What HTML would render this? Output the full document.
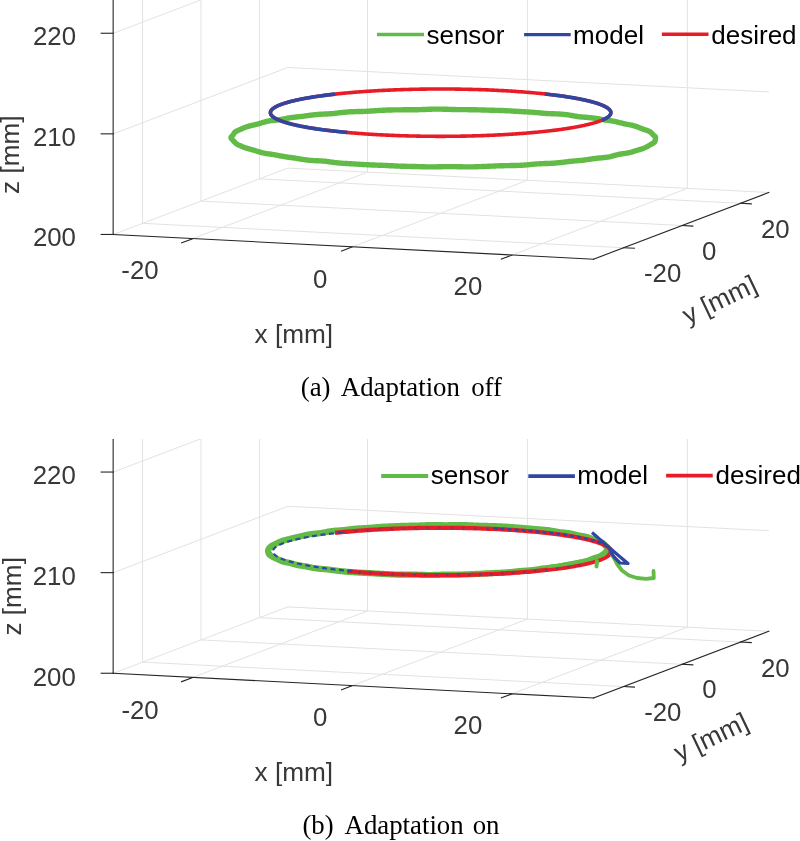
<!DOCTYPE html><html><head><meta charset="utf-8"><title>Adaptation figure</title>
<style>html,body{margin:0;padding:0;background:#fff}svg{display:block}
.g{stroke:#e2e2e2;stroke-width:1;fill:none}
.ax{stroke:#262626;stroke-width:1.1;fill:none;stroke-linecap:square}
.gr{stroke:#62bb46;fill:none;stroke-linejoin:round;stroke-linecap:round}
.bl{stroke:#2f47a2;fill:none;stroke-linejoin:round;stroke-linecap:butt}
.rd{stroke:#e81c27;fill:none;stroke-linejoin:round;stroke-linecap:butt}
text{white-space:pre}
</style></head><body>
<svg width="800" height="841" viewBox="0 0 800 841">
<defs><clipPath id="ca"><rect x="0" y="0" width="800" height="420"/></clipPath>
<clipPath id="cb"><rect x="0" y="439.0" width="800" height="402"/></clipPath></defs>

<g clip-path="url(#ca)"><line class="g" x1="192.14" y1="238.87" x2="367.56" y2="172.14"/><line class="g" x1="352.02" y1="246.98" x2="527.43" y2="180.25"/><line class="g" x1="511.89" y1="255.09" x2="687.31" y2="188.36"/><line class="g" x1="142.55" y1="223.34" x2="623.61" y2="247.75"/><line class="g" x1="200.99" y1="201.11" x2="682.06" y2="225.51"/><line class="g" x1="259.44" y1="178.88" x2="740.5" y2="203.28"/><line class="g" x1="112.37" y1="234.83" x2="287.78" y2="168.09"/><line class="g" x1="287.78" y1="168.09" x2="768.84" y2="192.5"/><line class="g" x1="142.55" y1="223.34" x2="142.55" y2="-18.1"/><line class="g" x1="200.99" y1="201.11" x2="200.99" y2="-40.33"/><line class="g" x1="259.44" y1="178.88" x2="259.44" y2="-62.56"/><line class="g" x1="112.37" y1="134.23" x2="287.78" y2="67.49"/><line class="g" x1="112.37" y1="33.63" x2="287.78" y2="-33.11"/><line class="g" x1="367.56" y1="172.14" x2="367.56" y2="-69.3"/><line class="g" x1="527.43" y1="180.25" x2="527.43" y2="-61.19"/><line class="g" x1="687.31" y1="188.36" x2="687.31" y2="-53.08"/><line class="g" x1="287.78" y1="67.49" x2="768.84" y2="91.9"/><line class="g" x1="287.78" y1="-33.11" x2="768.84" y2="-8.7"/></g>
<g clip-path="url(#ca)"><line class="ax" x1="113.15" y1="234.45" x2="593.43" y2="259.23"/><line class="ax" x1="593.43" y1="259.23" x2="768.84" y2="192.5"/><line class="ax" x1="113.15" y1="234.45" x2="113.15" y2="-25.55"/><line class="ax" x1="192.14" y1="238.87" x2="181.63" y2="242.88"/><line class="ax" x1="352.02" y1="246.98" x2="341.5" y2="250.99"/><line class="ax" x1="511.89" y1="255.09" x2="501.37" y2="259.1"/><line class="ax" x1="623.61" y1="247.75" x2="634.41" y2="248.29"/><line class="ax" x1="682.06" y1="225.51" x2="692.85" y2="226.06"/><line class="ax" x1="740.5" y1="203.28" x2="751.29" y2="203.83"/><line class="ax" x1="113.15" y1="234.45" x2="101.15" y2="234.45"/><line class="ax" x1="113.15" y1="133.85" x2="101.15" y2="133.85"/><line class="ax" x1="113.15" y1="33.25" x2="101.15" y2="33.25"/></g>
<g clip-path="url(#cb)"><line class="g" x1="192.14" y1="677.67" x2="367.56" y2="610.94"/><line class="g" x1="352.02" y1="685.78" x2="527.43" y2="619.05"/><line class="g" x1="511.89" y1="693.89" x2="687.31" y2="627.16"/><line class="g" x1="142.55" y1="662.14" x2="623.61" y2="686.55"/><line class="g" x1="200.99" y1="639.91" x2="682.06" y2="664.31"/><line class="g" x1="259.44" y1="617.68" x2="740.5" y2="642.08"/><line class="g" x1="112.37" y1="673.63" x2="287.78" y2="606.89"/><line class="g" x1="287.78" y1="606.89" x2="768.84" y2="631.3"/><line class="g" x1="142.55" y1="662.14" x2="142.55" y2="420.7"/><line class="g" x1="200.99" y1="639.91" x2="200.99" y2="398.47"/><line class="g" x1="259.44" y1="617.68" x2="259.44" y2="376.24"/><line class="g" x1="112.37" y1="573.03" x2="287.78" y2="506.29"/><line class="g" x1="112.37" y1="472.43" x2="287.78" y2="405.69"/><line class="g" x1="367.56" y1="610.94" x2="367.56" y2="369.5"/><line class="g" x1="527.43" y1="619.05" x2="527.43" y2="377.61"/><line class="g" x1="687.31" y1="627.16" x2="687.31" y2="385.72"/><line class="g" x1="287.78" y1="506.29" x2="768.84" y2="530.7"/><line class="g" x1="287.78" y1="405.69" x2="768.84" y2="430.1"/></g>
<g clip-path="url(#cb)"><line class="ax" x1="113.15" y1="673.25" x2="593.43" y2="698.03"/><line class="ax" x1="593.43" y1="698.03" x2="768.84" y2="631.3"/><line class="ax" x1="113.15" y1="673.25" x2="113.15" y2="413.25"/><line class="ax" x1="192.14" y1="677.67" x2="181.63" y2="681.68"/><line class="ax" x1="352.02" y1="685.78" x2="341.5" y2="689.79"/><line class="ax" x1="511.89" y1="693.89" x2="501.37" y2="697.9"/><line class="ax" x1="623.61" y1="686.55" x2="634.41" y2="687.09"/><line class="ax" x1="682.06" y1="664.31" x2="692.85" y2="664.86"/><line class="ax" x1="740.5" y1="642.08" x2="751.29" y2="642.63"/><line class="ax" x1="113.15" y1="673.25" x2="101.15" y2="673.25"/><line class="ax" x1="113.15" y1="572.65" x2="101.15" y2="572.65"/><line class="ax" x1="113.15" y1="472.05" x2="101.15" y2="472.05"/></g>
<path class="gr" d="M643.79 148.22 L644.3 148.02 L644.8 147.81 L645.27 147.6 L645.71 147.39 L646.12 147.19 L646.51 146.98 L646.87 146.79 L647.21 146.59 L647.53 146.41 L647.84 146.22 L648.13 146.05 L648.42 145.87 L648.71 145.7 L649 145.52 L649.3 145.35 L649.6 145.17 L649.92 144.99 L650.25 144.81 L650.58 144.62 L650.93 144.43 L651.28 144.24 L651.64 144.04 L652 143.84 L652.35 143.64 L652.7 143.43 L653.03 143.23 L653.34 143.03 L653.63 142.84 L653.9 142.65 L654.13 142.46 L654.34 142.27 L654.52 142.09 L654.67 141.91 L654.79 141.73 L654.89 141.54 L654.96 141.36 L655.02 141.17 L655.07 140.97 L655.1 140.77 L655.13 140.56 L655.16 140.34 L655.2 140.12 L655.23 139.89 L655.27 139.65 L655.32 139.41 L655.37 139.17 L655.42 138.92 L655.47 138.68 L655.52 138.45 L655.57 138.22 L655.6 137.99 L655.62 137.78 L655.62 137.58 L655.61 137.39 L655.57 137.2 L655.5 137.03 L655.41 136.86 L655.3 136.7 L655.16 136.55 L655 136.39 L654.82 136.24 L654.63 136.08 L654.43 135.92 L654.22 135.76 L654 135.59 L653.78 135.41 L653.57 135.22 L653.36 135.03 L653.16 134.83 L652.96 134.62 L652.77 134.41 L652.58 134.19 L652.39 133.96 L652.2 133.74 L652.01 133.51 L651.81 133.28 L651.59 133.05 L651.36 132.83 L651.11 132.6 L650.84 132.38 L650.54 132.15 L650.21 131.94 L649.86 131.72 L649.49 131.51 L649.09 131.31 L648.67 131.11 L648.23 130.92 L647.77 130.73 L647.3 130.54 L646.82 130.37 L646.34 130.2 L645.86 130.03 L645.38 129.87 L644.89 129.71 L644.42 129.55 L643.94 129.4 L643.47 129.24 L643 129.08 L642.52 128.91 L642.05 128.74 L641.56 128.56 L641.07 128.37 L640.57 128.18 L640.04 127.97 L639.51 127.75 L638.95 127.53 L638.37 127.3 L637.77 127.07 L637.15 126.84 L636.51 126.6 L635.86 126.38 L635.2 126.15 L634.52 125.94 L633.83 125.74 L633.15 125.55 L632.46 125.38 L631.77 125.21 L631.08 125.07 L630.4 124.93 L629.72 124.8 L629.04 124.68 L628.37 124.57 L627.69 124.45 L627.01 124.33 L626.33 124.2 L625.63 124.07 L624.92 123.92 L624.2 123.76 L623.45 123.59 L622.68 123.4 L621.88 123.2 L621.06 122.99 L620.21 122.77 L619.34 122.55 L618.45 122.32 L617.54 122.1 L616.61 121.88 L615.68 121.67 L614.73 121.47 L613.78 121.28 L612.84 121.11 L611.89 120.94 L610.96 120.79 L610.04 120.65 L609.12 120.52 L608.22 120.4 L607.33 120.28 L606.44 120.15 L605.56 120.03 L604.68 119.9 L603.79 119.76 L602.9 119.61 L602 119.46 L601.08 119.3 L600.14 119.13 L599.17 118.95 L598.18 118.78 L597.16 118.6 L596.11 118.43 L595.04 118.26 L593.94 118.1 L592.82 117.95 L591.69 117.81 L590.54 117.69 L589.38 117.58 L588.22 117.48 L587.06 117.38 L585.9 117.3 L584.76 117.22 L583.63 117.13 L582.51 117.05 L581.41 116.95 L580.32 116.85 L579.24 116.73 L578.18 116.59 L577.13 116.45 L576.07 116.29 L575.02 116.11 L573.96 115.92 L572.89 115.73 L571.8 115.53 L570.69 115.33 L569.56 115.14 L568.4 114.95 L567.21 114.77 L565.99 114.61 L564.74 114.46 L563.46 114.33 L562.16 114.22 L560.83 114.12 L559.49 114.04 L558.13 113.97 L556.77 113.91 L555.4 113.86 L554.03 113.82 L552.66 113.77 L551.31 113.72 L549.96 113.66 L548.64 113.6 L547.32 113.53 L546.03 113.45 L544.75 113.36 L543.49 113.26 L542.24 113.15 L541.01 113.04 L539.79 112.92 L538.57 112.8 L537.35 112.68 L536.13 112.57 L534.91 112.45 L533.68 112.35 L532.44 112.25 L531.18 112.15 L529.91 112.07 L528.61 111.98 L527.3 111.9 L525.96 111.83 L524.61 111.75 L523.22 111.68 L521.82 111.6 L520.4 111.52 L518.96 111.44 L517.5 111.36 L516.02 111.27 L514.54 111.18 L513.04 111.09 L511.54 111.01 L510.03 110.92 L508.52 110.83 L507.02 110.75 L505.51 110.68 L504.02 110.61 L502.54 110.55 L501.07 110.49 L499.61 110.44 L498.17 110.4 L496.74 110.36 L495.34 110.33 L493.94 110.3 L492.56 110.26 L491.2 110.23 L489.84 110.2 L488.49 110.16 L487.15 110.13 L485.8 110.09 L484.46 110.04 L483.1 110 L481.74 109.95 L480.37 109.91 L478.97 109.87 L477.56 109.83 L476.13 109.79 L474.68 109.76 L473.21 109.73 L471.72 109.71 L470.21 109.7 L468.69 109.68 L467.15 109.67 L465.6 109.67 L464.05 109.66 L462.49 109.65 L460.93 109.64 L459.38 109.63 L457.84 109.6 L456.3 109.58 L454.78 109.54 L453.27 109.51 L451.77 109.46 L450.29 109.41 L448.82 109.36 L447.36 109.31 L445.9 109.26 L444.46 109.22 L443.01 109.18 L441.57 109.14 L440.13 109.12 L438.68 109.11 L437.22 109.11 L435.76 109.12 L434.29 109.14 L432.81 109.17 L431.33 109.21 L429.84 109.26 L428.35 109.32 L426.85 109.37 L425.36 109.43 L423.87 109.49 L422.39 109.55 L420.92 109.6 L419.46 109.64 L418.01 109.68 L416.57 109.72 L415.14 109.75 L413.72 109.77 L412.3 109.79 L410.9 109.8 L409.49 109.8 L408.09 109.81 L406.68 109.81 L405.26 109.81 L403.84 109.82 L402.4 109.82 L400.95 109.83 L399.48 109.84 L398 109.85 L396.5 109.86 L394.99 109.88 L393.48 109.91 L391.95 109.94 L390.42 109.98 L388.9 110.02 L387.38 110.07 L385.87 110.12 L384.38 110.19 L382.91 110.26 L381.45 110.33 L380.02 110.41 L378.62 110.5 L377.24 110.59 L375.88 110.69 L374.54 110.78 L373.22 110.88 L371.92 110.97 L370.62 111.06 L369.33 111.14 L368.03 111.22 L366.74 111.29 L365.43 111.35 L364.12 111.4 L362.79 111.45 L361.44 111.48 L360.08 111.52 L358.7 111.55 L357.32 111.57 L355.92 111.61 L354.51 111.64 L353.11 111.68 L351.7 111.74 L350.3 111.8 L348.91 111.88 L347.53 111.97 L346.17 112.08 L344.83 112.2 L343.51 112.33 L342.21 112.48 L340.93 112.63 L339.66 112.78 L338.42 112.94 L337.18 113.09 L335.96 113.24 L334.74 113.38 L333.52 113.5 L332.3 113.62 L331.07 113.72 L329.84 113.81 L328.6 113.89 L327.35 113.95 L326.1 114.01 L324.83 114.06 L323.56 114.12 L322.29 114.17 L321.02 114.23 L319.75 114.3 L318.5 114.38 L317.25 114.47 L316.02 114.57 L314.81 114.69 L313.62 114.82 L312.45 114.96 L311.31 115.11 L310.18 115.27 L309.08 115.43 L308 115.59 L306.93 115.74 L305.87 115.9 L304.82 116.04 L303.78 116.18 L302.73 116.31 L301.69 116.43 L300.64 116.54 L299.58 116.65 L298.51 116.76 L297.43 116.86 L296.34 116.97 L295.25 117.09 L294.15 117.21 L293.05 117.35 L291.96 117.5 L290.86 117.66 L289.78 117.83 L288.71 118.01 L287.65 118.2 L286.62 118.4 L285.6 118.6 L284.6 118.8 L283.62 119 L282.67 119.19 L281.73 119.36 L280.81 119.53 L279.9 119.68 L279 119.82 L278.11 119.94 L277.23 120.05 L276.35 120.14 L275.47 120.23 L274.58 120.31 L273.7 120.4 L272.81 120.48 L271.92 120.57 L271.03 120.68 L270.14 120.8 L269.25 120.93 L268.38 121.08 L267.51 121.24 L266.66 121.43 L265.82 121.62 L265 121.84 L264.2 122.06 L263.43 122.28 L262.67 122.51 L261.94 122.74 L261.23 122.97 L260.53 123.19 L259.85 123.41 L259.18 123.61 L258.51 123.8 L257.85 123.98 L257.19 124.16 L256.53 124.32 L255.86 124.48 L255.19 124.64 L254.5 124.79 L253.82 124.94 L253.12 125.1 L252.42 125.26 L251.72 125.42 L251.02 125.59 L250.33 125.76 L249.65 125.94 L248.98 126.12 L248.34 126.31 L247.71 126.5 L247.11 126.69 L246.54 126.88 L246 127.07 L245.48 127.25 L245 127.43 L244.54 127.61 L244.1 127.78 L243.67 127.95 L243.27 128.12 L242.87 128.29 L242.48 128.46 L242.08 128.63 L241.69 128.8 L241.29 128.98 L240.88 129.16 L240.46 129.35 L240.03 129.55 L239.59 129.75 L239.14 129.96 L238.69 130.17 L238.24 130.38 L237.79 130.6 L237.35 130.81 L236.93 131.02 L236.52 131.23 L236.14 131.44 L235.78 131.64 L235.46 131.84 L235.16 132.04 L234.9 132.23 L234.67 132.43 L234.47 132.62 L234.29 132.81 L234.15 133 L234.02 133.2 L233.9 133.4 L233.8 133.6 L233.7 133.81 L233.6 134.02 L233.5 134.24 L233.39 134.46 L233.27 134.67 L233.13 134.89 L232.99 135.1 L232.82 135.31 L232.65 135.52 L232.47 135.71 L232.28 135.9 L232.09 136.09 L231.9 136.26 L231.72 136.43 L231.55 136.59 L231.4 136.75 L231.26 136.91 L231.15 137.07 L231.07 137.23 L231.02 137.4 L231 137.57 L231.02 137.75 L231.07 137.93 L231.15 138.13 L231.25 138.34 L231.39 138.56 L231.55 138.79 L231.73 139.02 L231.93 139.26 L232.14 139.51 L232.37 139.75 L232.6 140 L232.83 140.25 L233.06 140.49 L233.29 140.72 L233.51 140.95 L233.73 141.17 L233.94 141.38 L234.15 141.59 L234.34 141.79 L234.53 141.98 L234.71 142.16 L234.88 142.34 L235.06 142.51 L235.23 142.69 L235.4 142.85 L235.57 143.02 L235.75 143.19 L235.95 143.36 L236.15 143.52 L236.37 143.69 L236.61 143.87 L236.87 144.04 L237.15 144.22 L237.45 144.4 L237.79 144.59 L238.15 144.78 L238.54 144.98 L238.96 145.18 L239.41 145.38 L239.88 145.59 L240.38 145.81 L240.91 146.03 L241.45 146.25 L242 146.47 L242.58 146.7 L243.16 146.93 L243.74 147.15 L244.33 147.37 L244.91 147.59 L245.49 147.79 L246.07 147.99 L246.63 148.18 L247.19 148.36 L247.73 148.53 L248.27 148.69 L248.8 148.84 L249.33 148.99 L249.85 149.12 L250.37 149.26 L250.9 149.4 L251.44 149.54 L251.98 149.68 L252.54 149.83 L253.12 150 L253.72 150.17 L254.34 150.36 L254.98 150.56 L255.65 150.77 L256.34 150.99 L257.05 151.22 L257.78 151.46 L258.52 151.7 L259.29 151.93 L260.06 152.17 L260.84 152.39 L261.63 152.6 L262.43 152.81 L263.23 152.99 L264.03 153.16 L264.83 153.32 L265.63 153.46 L266.43 153.59 L267.24 153.71 L268.05 153.83 L268.86 153.94 L269.69 154.05 L270.53 154.16 L271.38 154.28 L272.24 154.41 L273.13 154.55 L274.03 154.7 L274.95 154.86 L275.89 155.04 L276.85 155.22 L277.82 155.41 L278.8 155.6 L279.79 155.8 L280.79 155.99 L281.78 156.18 L282.78 156.36 L283.78 156.53 L284.76 156.69 L285.74 156.84 L286.71 156.98 L287.67 157.12 L288.62 157.24 L289.57 157.36 L290.51 157.48 L291.44 157.61 L292.39 157.73 L293.33 157.86 L294.29 158 L295.27 158.15 L296.26 158.31 L297.28 158.49 L298.32 158.67 L299.39 158.85 L300.49 159.04 L301.61 159.24 L302.76 159.43 L303.94 159.61 L305.14 159.78 L306.35 159.94 L307.58 160.09 L308.81 160.22 L310.05 160.33 L311.29 160.43 L312.52 160.51 L313.74 160.58 L314.95 160.64 L316.14 160.69 L317.33 160.74 L318.5 160.79 L319.66 160.84 L320.81 160.91 L321.96 160.98 L323.11 161.07 L324.26 161.17 L325.41 161.29 L326.58 161.42 L327.76 161.57 L328.96 161.73 L330.18 161.89 L331.42 162.06 L332.68 162.23 L333.96 162.4 L335.26 162.56 L336.58 162.72 L337.91 162.86 L339.25 163 L340.59 163.12 L341.93 163.23 L343.28 163.33 L344.61 163.42 L345.94 163.5 L347.27 163.57 L348.58 163.64 L349.88 163.71 L351.17 163.78 L352.46 163.85 L353.74 163.92 L355.02 163.99 L356.31 164.07 L357.6 164.16 L358.9 164.24 L360.22 164.33 L361.55 164.42 L362.9 164.51 L364.27 164.59 L365.66 164.67 L367.07 164.74 L368.5 164.81 L369.95 164.88 L371.4 164.94 L372.87 164.99 L374.34 165.04 L375.81 165.09 L377.28 165.14 L378.74 165.18 L380.19 165.23 L381.63 165.29 L383.06 165.34 L384.47 165.4 L385.88 165.47 L387.27 165.53 L388.65 165.6 L390.02 165.68 L391.4 165.75 L392.77 165.82 L394.15 165.89 L395.53 165.96 L396.92 166.03 L398.33 166.09 L399.75 166.14 L401.19 166.19 L402.64 166.23 L404.1 166.27 L405.58 166.31 L407.07 166.34 L408.57 166.38 L410.07 166.41 L411.57 166.44 L413.07 166.48 L414.57 166.52 L416.06 166.56 L417.54 166.6 L419.01 166.64 L420.47 166.69 L421.92 166.73 L423.37 166.77 L424.81 166.81 L426.24 166.84 L427.68 166.86 L429.12 166.88 L430.56 166.89 L432.02 166.89 L433.48 166.88 L434.96 166.86 L436.45 166.83 L437.95 166.8 L439.46 166.77 L440.99 166.73 L442.52 166.7 L444.06 166.67 L445.6 166.64 L447.14 166.62 L448.68 166.61 L450.2 166.6 L451.71 166.61 L453.21 166.62 L454.7 166.64 L456.16 166.67 L457.61 166.7 L459.04 166.74 L460.46 166.77 L461.87 166.81 L463.26 166.84 L464.66 166.86 L466.05 166.88 L467.45 166.89 L468.86 166.89 L470.28 166.89 L471.72 166.87 L473.17 166.85 L474.64 166.81 L476.12 166.77 L477.62 166.72 L479.14 166.67 L480.66 166.61 L482.2 166.55 L483.73 166.49 L485.27 166.42 L486.79 166.35 L488.31 166.29 L489.81 166.22 L491.29 166.16 L492.75 166.1 L494.19 166.03 L495.61 165.98 L497 165.92 L498.38 165.87 L499.73 165.82 L501.08 165.78 L502.42 165.74 L503.75 165.7 L505.08 165.67 L506.42 165.64 L507.77 165.62 L509.13 165.59 L510.51 165.57 L511.9 165.54 L513.32 165.51 L514.75 165.48 L516.2 165.44 L517.67 165.39 L519.14 165.33 L520.62 165.27 L522.1 165.19 L523.58 165.1 L525.05 165 L526.5 164.89 L527.94 164.77 L529.35 164.65 L530.74 164.52 L532.1 164.39 L533.43 164.27 L534.74 164.15 L536.02 164.04 L537.27 163.93 L538.51 163.84 L539.72 163.76 L540.92 163.69 L542.12 163.64 L543.31 163.59 L544.5 163.55 L545.7 163.51 L546.91 163.48 L548.13 163.44 L549.36 163.4 L550.61 163.36 L551.88 163.3 L553.17 163.22 L554.47 163.14 L555.79 163.03 L557.11 162.91 L558.45 162.78 L559.79 162.63 L561.13 162.48 L562.47 162.31 L563.8 162.14 L565.13 161.98 L566.44 161.81 L567.73 161.65 L569.01 161.5 L570.26 161.36 L571.5 161.24 L572.7 161.12 L573.89 161.01 L575.05 160.91 L576.18 160.82 L577.29 160.73 L578.38 160.64 L579.45 160.55 L580.5 160.46 L581.53 160.36 L582.56 160.25 L583.57 160.13 L584.57 160 L585.57 159.85 L586.57 159.7 L587.57 159.55 L588.57 159.38 L589.58 159.22 L590.6 159.06 L591.63 158.9 L592.66 158.75 L593.71 158.6 L594.78 158.47 L595.85 158.35 L596.93 158.24 L598.02 158.13 L599.11 158.03 L600.21 157.94 L601.3 157.85 L602.39 157.76 L603.47 157.66 L604.54 157.55 L605.59 157.43 L606.63 157.29 L607.64 157.14 L608.63 156.97 L609.59 156.78 L610.52 156.58 L611.43 156.36 L612.31 156.14 L613.17 155.91 L614 155.68 L614.81 155.44 L615.61 155.22 L616.39 155 L617.16 154.79 L617.92 154.6 L618.69 154.42 L619.45 154.26 L620.21 154.12 L620.98 153.98 L621.75 153.86 L622.53 153.75 L623.31 153.64 L624.09 153.53 L624.88 153.42 L625.67 153.31 L626.45 153.19 L627.23 153.06 L628 152.92 L628.76 152.77 L629.5 152.6 L630.23 152.43 L630.95 152.24 L631.64 152.05 L632.32 151.85 L632.98 151.65 L633.63 151.45 L634.27 151.24 L634.89 151.04 L635.51 150.85 L636.12 150.66 L636.72 150.47 L637.33 150.28 L637.93 150.1 L638.53 149.92 L639.13 149.75 L639.74 149.57 L640.34 149.39 L640.94 149.21 L641.53 149.02 L642.12 148.83 L642.69 148.63 L643.25 148.43 L643.79 148.22" stroke-width="5.4"/>
<path class="rd" d="M600.52 120.78 L601.02 120.58 L601.52 120.39 L602 120.19 L602.46 120 L602.92 119.8 L603.36 119.6 L603.79 119.4 L604.21 119.21 L604.61 119.01 L605.01 118.81 L605.39 118.61 L605.75 118.41 L606.11 118.21 L606.45 118.01 L606.78 117.81 L607.1 117.6 L607.4 117.4 L607.69 117.2 L607.97 117 L608.24 116.79 L608.49 116.59 L608.73 116.39 L608.96 116.18 L609.18 115.98 L609.38 115.77 L609.57 115.57 L609.75 115.36 L609.91 115.16 L610.06 114.95 L610.2 114.75 L610.32 114.54 L610.44 114.33 L610.53 114.13 L610.62 113.92 L610.69 113.72 L610.75 113.51 L610.8 113.3 L610.84 113.1 L610.86 112.89 L610.87 112.68 L610.86 112.48 L610.84 112.27 L610.81 112.06 L610.77 111.86 L610.72 111.65 L610.65 111.44 L610.56 111.24 L610.47 111.03 L610.36 110.83 L610.24 110.62 L610.11 110.41 L609.96 110.21 L609.8 110 L609.63 109.8 L609.44 109.59 L609.24 109.39 L609.03 109.19 L608.81 108.98 L608.57 108.78 L608.32 108.57 L608.06 108.37 L607.78 108.17 L607.5 107.96 L607.2 107.76 L606.88 107.56 L606.56 107.36 L606.22 107.16 L605.87 106.96 L605.5 106.76 L605.13 106.56 L604.74 106.36 L604.34 106.16 L603.92 105.96 L603.5 105.76 L603.06 105.57 L602.61 105.37 L602.15 105.17 L601.67 104.98 L601.18 104.78 L600.68 104.59 L600.17 104.39 L599.65 104.2 L599.11 104.01 L598.56 103.82 L598 103.63 L597.43 103.43 L596.84 103.24 L596.25 103.06 L595.64 102.87 L595.02 102.68 L594.39 102.49 L593.74 102.31 L593.09 102.12 L592.42 101.94 L591.74 101.75 L591.05 101.57 L590.35 101.39 L589.64 101.21 L588.92 101.03 L588.18 100.85 L587.43 100.67 L586.68 100.49 L585.91 100.32 L585.13 100.14 L584.34 99.96 L583.53 99.79 L582.72 99.62 L581.9 99.45 L581.06 99.28 L580.22 99.11 L579.36 98.94 L578.5 98.77 L577.62 98.6 L576.73 98.44 L575.84 98.27 L574.93 98.11 L574.01 97.95 L573.08 97.79 L572.14 97.63 L571.2 97.47 L570.24 97.31 L569.27 97.15 L568.29 97 L567.3 96.84 L566.31 96.69 L565.3 96.54 L564.28 96.39 L563.26 96.24 L562.22 96.09 L561.18 95.94 L560.12 95.8 L559.06 95.65 L557.99 95.51 L556.91 95.37 L555.82 95.23 L554.72 95.09 L553.62 94.95 L552.5 94.82 L551.38 94.68 L550.24 94.55 L549.1 94.42 L547.95 94.28 L546.8 94.16 L545.63 94.03 L544.46 93.9 L543.28 93.78 L542.09 93.65 L540.89 93.53 L539.69 93.41 L538.48 93.29 L537.26 93.17 L536.03 93.06 L534.8 92.94 L533.55 92.83 L532.31 92.72 L531.05 92.61 L529.79 92.5 L528.52 92.39 L527.24 92.28 L525.96 92.18 L524.67 92.08 L523.38 91.98 L522.08 91.88 L520.77 91.78 L519.46 91.68 L518.14 91.59 L516.81 91.49 L515.48 91.4 L514.14 91.31 L512.8 91.22 L511.45 91.14 L510.1 91.05 L508.74 90.97 L507.38 90.89 L506.01 90.81 L504.63 90.73 L503.25 90.65 L501.87 90.58 L500.48 90.5 L499.09 90.43 L497.69 90.36 L496.29 90.29 L494.88 90.23 L493.47 90.16 L492.06 90.1 L490.64 90.04 L489.22 89.98 L487.79 89.92 L486.36 89.87 L484.93 89.81 L483.5 89.76 L482.06 89.71 L480.61 89.66 L479.17 89.61 L477.72 89.56 L476.27 89.52 L474.82 89.48 L473.36 89.44 L471.9 89.4 L470.44 89.36 L468.97 89.33 L467.51 89.29 L466.04 89.26 L464.57 89.23 L463.1 89.2 L461.63 89.18 L460.15 89.15 L458.68 89.13 L457.2 89.11 L455.72 89.09 L454.24 89.07 L452.76 89.06 L451.27 89.05 L449.79 89.03 L448.31 89.02 L446.82 89.02 L445.34 89.01 L443.85 89 L442.37 89 L440.88 89 L439.4 89 L437.91 89 L436.43 89.01 L434.94 89.01 L433.46 89.02 L431.97 89.03 L430.49 89.04 L429.01 89.06 L427.53 89.07 L426.05 89.09 L424.57 89.11 L423.09 89.13 L421.61 89.15 L420.14 89.17 L418.66 89.2 L417.19 89.23 L415.72 89.26 L414.25 89.29 L412.79 89.32 L411.32 89.36 L409.86 89.39 L408.4 89.43 L406.94 89.47 L405.49 89.51 L404.04 89.56 L402.59 89.6 L401.14 89.65 L399.7 89.7 L398.26 89.75 L396.82 89.8 L395.39 89.86 L393.95 89.91 L392.53 89.97 L391.11 90.03 L389.69 90.09 L388.27 90.15 L386.86 90.22 L385.45 90.28 L384.05 90.35 L382.65 90.42 L381.26 90.49 L379.87 90.57 L378.48 90.64 L377.1 90.72 L375.72 90.8 L374.35 90.88 L372.99 90.96 L371.63 91.04 L370.27 91.12 L368.92 91.21 L367.58 91.3 L366.24 91.39 L364.91 91.48 L363.58 91.57 L362.26 91.67 L360.94 91.76 L359.63 91.86 L358.33 91.96 L357.03 92.06 L355.74 92.16 L354.46 92.27 L353.18 92.37 L351.91 92.48 L350.64 92.59 L349.39 92.7 L348.14 92.81 L346.89 92.92 L345.66 93.04 L344.43 93.15 L343.21 93.27 L341.99 93.39 L340.78 93.51 L339.59 93.63 L338.39 93.76 L337.21 93.88 L336.03 94.01 L334.87 94.13 L333.71 94.26 L332.56 94.39 L331.41 94.53 L330.28 94.66 L329.15 94.79 L328.03 94.93 L326.92 95.07 L325.82 95.21 L324.73 95.35 L323.65 95.49 L322.57 95.63 L321.51 95.78 L320.45 95.92 L319.4 96.07 L318.36 96.21 L317.34 96.36 L316.32 96.51 L315.31 96.67 L314.31 96.82 L313.32 96.97 L312.33 97.13 L311.36 97.28 L310.4 97.44 L309.45 97.6 L308.51 97.76 L307.58 97.92 L306.66 98.08 L305.75 98.25 L304.84 98.41 L303.95 98.58 L303.07 98.74 L302.2 98.91 L301.35 99.08 L300.5 99.25 L299.66 99.42 L298.83 99.59 L298.02 99.76 L297.21 99.94 L296.42 100.11 L295.63 100.29 L294.86 100.46 L294.1 100.64 L293.35 100.82 L292.61 101 L291.88 101.18 L291.17 101.36 L290.46 101.54 L289.77 101.72 L289.09 101.91 L288.42 102.09 L287.76 102.28 L287.11 102.46 L286.47 102.65 L285.85 102.84 L285.24 103.03 L284.64 103.21 L284.05 103.4 L283.47 103.59 L282.91 103.79 L282.36 103.98 L281.82 104.17 L281.29 104.36 L280.77 104.56 L280.27 104.75 L279.78 104.95 L279.3 105.14 L278.83 105.34 L278.37 105.53 L277.93 105.73 L277.5 105.93 L277.08 106.13 L276.68 106.33 L276.29 106.53 L275.91 106.73 L275.54 106.93 L275.18 107.13 L274.84 107.33 L274.51 107.53 L274.19 107.73 L273.89 107.93 L273.6 108.14 L273.32 108.34 L273.05 108.54 L272.8 108.74 L272.56 108.95 L272.33 109.15 L272.11 109.36 L271.91 109.56 L271.72 109.77 L271.55 109.97 L271.38 110.18 L271.23 110.38 L271.09 110.59 L270.97 110.79 L270.86 111 L270.76 111.21 L270.67 111.41 L270.6 111.62 L270.54 111.82 L270.49 112.03 L270.46 112.24 L270.43 112.44 L270.43 112.65 L270.43 112.86 L270.45 113.06 L270.48 113.27 L270.52 113.48 L270.58 113.68 L270.65 113.89 L270.73 114.1 L270.82 114.3 L270.93 114.51 L271.05 114.71 L271.19 114.92 L271.33 115.12 L271.49 115.33 L271.67 115.53 L271.85 115.74 L272.05 115.94 L272.26 116.15 L272.48 116.35 L272.72 116.56 L272.97 116.76 L273.23 116.96 L273.51 117.17 L273.8 117.37 L274.1 117.57 L274.41 117.77 L274.73 117.97 L275.07 118.18 L275.42 118.38 L275.79 118.58 L276.16 118.78 L276.55 118.98 L276.95 119.17 L277.37 119.37 L277.79 119.57 L278.23 119.77 L278.68 119.96 L279.15 120.16 L279.62 120.36 L280.11 120.55 L280.61 120.75 L281.12 120.94 L281.65 121.13 L282.18 121.33 L282.73 121.52 L283.29 121.71 L283.86 121.9 L284.45 122.09 L285.05 122.28 L285.65 122.47 L286.27 122.65 L286.91 122.84 L287.55 123.03 L288.2 123.21 L288.87 123.4 L289.55 123.58 L290.24 123.76 L290.94 123.95 L291.65 124.13 L292.38 124.31 L293.11 124.49 L293.86 124.66 L294.62 124.84 L295.38 125.02 L296.16 125.19 L296.96 125.37 L297.76 125.54 L298.57 125.72 L299.39 125.89 L300.23 126.06 L301.07 126.23 L301.93 126.4 L302.79 126.56 L303.67 126.73 L304.56 126.9 L305.46 127.06 L306.36 127.22 L307.28 127.39 L308.21 127.55 L309.15 127.71 L310.1 127.87 L311.05 128.02 L312.02 128.18 L313 128.34 L313.99 128.49 L314.99 128.64 L315.99 128.8 L317.01 128.95 L318.03 129.1 L319.07 129.24 L320.11 129.39 L321.17 129.54 L322.23 129.68 L323.3 129.82 L324.38 129.96 L325.47 130.1 L326.57 130.24 L327.68 130.38 L328.79 130.52 L329.92 130.65 L331.05 130.79 L332.19 130.92 L333.34 131.05 L334.5 131.18 L335.66 131.31 L336.83 131.43 L338.02 131.56 L339.2 131.68 L340.4 131.8 L341.61 131.93 L342.82 132.04 L344.04 132.16 L345.26 132.28 L346.5 132.39 L347.74 132.51 L348.99 132.62 L350.24 132.73 L351.5 132.84 L352.77 132.95 L354.05 133.05 L355.33 133.15 L356.62 133.26 L357.91 133.36 L359.22 133.46 L360.52 133.56 L361.84 133.65 L363.16 133.75 L364.48 133.84 L365.81 133.93 L367.15 134.02 L368.49 134.11 L369.84 134.2 L371.19 134.28 L372.55 134.36 L373.92 134.45 L375.29 134.53 L376.66 134.6 L378.04 134.68 L379.42 134.76 L380.81 134.83 L382.2 134.9 L383.6 134.97 L385 135.04 L386.41 135.11 L387.82 135.17 L389.23 135.23 L390.65 135.29 L392.07 135.35 L393.5 135.41 L394.93 135.47 L396.36 135.52 L397.8 135.58 L399.24 135.63 L400.68 135.68 L402.12 135.72 L403.57 135.77 L405.02 135.81 L406.48 135.86 L407.93 135.9 L409.39 135.93 L410.85 135.97 L412.32 136.01 L413.78 136.04 L415.25 136.07 L416.72 136.1 L418.19 136.13 L419.67 136.16 L421.14 136.18 L422.62 136.2 L424.09 136.22 L425.57 136.24 L427.05 136.26 L428.54 136.28 L430.02 136.29 L431.5 136.3 L432.98 136.31 L434.47 136.32 L435.95 136.33 L437.44 136.33 L438.92 136.33 L440.41 136.33 L441.89 136.33 L443.38 136.33 L444.86 136.33 L446.35 136.32 L447.83 136.31 L449.32 136.3 L450.8 136.29 L452.28 136.28 L453.76 136.26 L455.25 136.25 L456.72 136.23 L458.2 136.21 L459.68 136.18 L461.16 136.16 L462.63 136.13 L464.1 136.11 L465.57 136.08 L467.04 136.05 L468.51 136.01 L469.97 135.98 L471.43 135.94 L472.89 135.9 L474.35 135.86 L475.8 135.82 L477.26 135.78 L478.71 135.73 L480.15 135.68 L481.6 135.63 L483.04 135.58 L484.47 135.53 L485.91 135.48 L487.34 135.42 L488.76 135.36 L490.19 135.3 L491.61 135.24 L493.02 135.18 L494.43 135.12 L495.84 135.05 L497.24 134.98 L498.64 134.91 L500.04 134.84 L501.43 134.77 L502.81 134.69 L504.19 134.62 L505.57 134.54 L506.94 134.46 L508.3 134.38 L509.66 134.29 L511.02 134.21 L512.37 134.12 L513.71 134.04 L515.05 133.95 L516.39 133.85 L517.71 133.76 L519.03 133.67 L520.35 133.57 L521.66 133.47 L522.96 133.37 L524.26 133.27 L525.55 133.17 L526.84 133.07 L528.11 132.96 L529.38 132.85 L530.65 132.75 L531.91 132.64 L533.16 132.52 L534.4 132.41 L535.64 132.3 L536.86 132.18 L538.09 132.06 L539.3 131.94 L540.51 131.82 L541.71 131.7 L542.9 131.58 L544.08 131.45 L545.26 131.33 L546.43 131.2 L547.58 131.07 L548.74 130.94 L549.88 130.81 L551.02 130.67 L552.14 130.54 L553.26 130.4 L554.37 130.27 L555.47 130.13 L556.56 129.99 L557.65 129.85 L558.72 129.7 L559.79 129.56 L560.84 129.41 L561.89 129.27 L562.93 129.12 L563.96 128.97 L564.98 128.82 L565.99 128.67 L566.99 128.52 L567.98 128.36 L568.96 128.21 L569.93 128.05 L570.89 127.89 L571.84 127.73 L572.78 127.57 L573.71 127.41 L574.64 127.25 L575.55 127.09 L576.45 126.92 L577.34 126.76 L578.22 126.59 L579.09 126.42 L579.95 126.26 L580.79 126.09 L581.63 125.91 L582.46 125.74 L583.28 125.57 L584.08 125.4 L584.88 125.22 L585.66 125.05 L586.43 124.87 L587.19 124.69 L587.94 124.51 L588.68 124.34 L589.41 124.16 L590.13 123.97 L590.83 123.79 L591.52 123.61 L592.21 123.43 L592.88 123.24 L593.54 123.06 L594.18 122.87 L594.82 122.68 L595.44 122.5 L596.05 122.31 L596.65 122.12 L597.24 121.93 L597.82 121.74 L598.38 121.55 L598.94 121.36 L599.48 121.16 L600 120.97 L600.52 120.78" stroke-width="3.6"/>
<path class="bl" d="M602 120.19 L602.88 119.82 L603.72 119.44 L604.51 119.06 L605.26 118.68 L605.96 118.29 L606.61 117.91 L607.22 117.52 L607.78 117.14 L608.3 116.75 L608.77 116.36 L609.19 115.97 L609.56 115.58 L609.89 115.18 L610.17 114.79 L610.4 114.4 L610.59 114 L610.73 113.61 L610.82 113.21 L610.86 112.82 L610.86 112.42 L610.81 112.03 L610.71 111.63 L610.56 111.24 L610.37 110.84 L610.13 110.45 L609.84 110.06 L609.51 109.66 L609.12 109.27 L608.69 108.88 L608.22 108.49 L607.69 108.1 L607.12 107.72 L606.51 107.33 L605.85 106.95 L605.14 106.56 L604.38 106.18 L603.58 105.8 L602.74 105.43 L601.85 105.05 L600.91 104.68 L599.93 104.31 L598.91 103.94 L597.84 103.57 L596.73 103.21 L595.57 102.85 L594.37 102.49 L593.13 102.13 L591.85 101.78 L590.52 101.43 L589.15 101.09 L587.74 100.74 L586.29 100.4 L584.8 100.07 L583.27 99.73 L581.7 99.4 L580.09 99.08 L578.44 98.76 L576.75 98.44 L575.02 98.13 L573.26 97.82 L571.46 97.51 L569.62 97.21 L567.75 96.91 L565.84 96.62 L563.9 96.33 L561.92 96.05 L559.91 95.77 L557.86 95.49 L555.79 95.22 L553.68 94.96 L551.53 94.7 L549.36 94.45 L547.16 94.2 L544.93 93.95" stroke-width="3.6"/>
<path class="bl" d="M335.1 94.11 L332.88 94.36 L330.68 94.61 L328.52 94.87 L326.39 95.13 L324.29 95.4 L322.23 95.68 L320.19 95.96 L318.2 96.24 L316.23 96.53 L314.3 96.82 L312.41 97.12 L310.55 97.42 L308.73 97.72 L306.95 98.03 L305.2 98.35 L303.49 98.66 L301.82 98.99 L300.19 99.31 L298.6 99.64 L297.05 99.97 L295.53 100.31 L294.06 100.65 L292.63 100.99 L291.25 101.34 L289.9 101.69 L288.6 102.04 L287.33 102.4 L286.12 102.76 L284.94 103.12 L283.81 103.48 L282.72 103.85 L281.68 104.22 L280.68 104.59 L279.73 104.96 L278.82 105.34 L277.96 105.72 L277.15 106.1 L276.37 106.48 L275.65 106.86 L274.97 107.25 L274.34 107.64 L273.76 108.02 L273.22 108.41 L272.73 108.8 L272.28 109.2 L271.89 109.59 L271.54 109.98 L271.23 110.38 L270.98 110.77 L270.77 111.17 L270.62 111.56 L270.5 111.96 L270.44 112.36 L270.43 112.75 L270.46 113.15 L270.54 113.55 L270.67 113.94 L270.84 114.34 L271.07 114.73 L271.34 115.13 L271.65 115.52 L272.02 115.92 L272.43 116.31 L272.89 116.7 L273.4 117.09 L273.96 117.48 L274.56 117.87 L275.21 118.25 L275.9 118.64 L276.64 119.02 L277.43 119.4 L278.26 119.78 L279.14 120.16 L280.06 120.53 L281.03 120.91 L282.05 121.28 L283.1 121.65 L284.21 122.01 L285.35 122.37 L286.54 122.73 L287.78 123.09 L289.05 123.45 L290.37 123.8 L291.73 124.15 L293.13 124.49 L294.58 124.83 L296.06 125.17 L297.59 125.51 L299.16 125.84 L300.76 126.17 L302.41 126.49 L304.09 126.81 L305.81 127.13 L307.57 127.44 L309.37 127.75 L311.2 128.05 L313.07 128.35 L314.98 128.64 L316.92 128.93 L318.9 129.22 L320.91 129.5 L322.95 129.78 L325.03 130.05 L327.14 130.32 L329.28 130.58 L331.46 130.83 L333.66 131.09 L335.89 131.33 L338.16 131.57 L340.45 131.81 L342.77 132.04 L345.11 132.26 L347.49 132.48" stroke-width="3.6"/>
<path class="gr" d="M595.08 557.91 L595.58 557.75 L596.08 557.6 L596.58 557.45 L597.08 557.3 L597.56 557.15 L598.03 557 L598.48 556.84 L598.91 556.69 L599.32 556.54 L599.7 556.39 L600.06 556.24 L600.39 556.08 L600.7 555.93 L600.99 555.77 L601.27 555.61 L601.53 555.45 L601.78 555.29 L602.02 555.12 L602.26 554.95 L602.5 554.77 L602.74 554.59 L602.98 554.4 L603.23 554.21 L603.48 554.01 L603.73 553.81 L603.99 553.61 L604.24 553.41 L604.5 553.21 L604.74 553.02 L604.98 552.82 L605.2 552.63 L605.41 552.45 L605.6 552.27 L605.77 552.1 L605.92 551.94 L606.06 551.78 L606.17 551.63 L606.27 551.48 L606.35 551.34 L606.41 551.2 L606.47 551.06 L606.52 550.91 L606.56 550.76 L606.61 550.61 L606.65 550.45 L606.7 550.29 L606.75 550.11 L606.81 549.93 L606.87 549.74 L606.94 549.55 L607.01 549.35 L607.08 549.14 L607.15 548.94 L607.21 548.73 L607.26 548.53 L607.31 548.33 L607.33 548.14 L607.35 547.96 L607.34 547.78 L607.31 547.61 L607.25 547.45 L607.18 547.29 L607.08 547.14 L606.96 546.99 L606.83 546.85 L606.68 546.71 L606.51 546.56 L606.34 546.41 L606.15 546.26 L605.97 546.1 L605.78 545.94 L605.6 545.77 L605.41 545.6 L605.24 545.42 L605.06 545.24 L604.9 545.05 L604.73 544.86 L604.57 544.68 L604.4 544.49 L604.24 544.31 L604.07 544.13 L603.89 543.95 L603.7 543.78 L603.49 543.6 L603.28 543.44 L603.04 543.27 L602.79 543.1 L602.51 542.94 L602.22 542.77 L601.91 542.61 L601.58 542.44 L601.24 542.27 L600.88 542.09 L600.52 541.92 L600.14 541.74 L599.75 541.57 L599.37 541.39 L598.97 541.22 L598.58 541.05 L598.19 540.89 L597.79 540.73 L597.4 540.58 L597.01 540.43 L596.62 540.29 L596.22 540.15 L595.83 540.02 L595.43 539.9 L595.03 539.77 L594.62 539.64 L594.2 539.51 L593.78 539.37 L593.34 539.23 L592.9 539.09 L592.44 538.93 L591.97 538.77 L591.49 538.59 L590.99 538.41 L590.48 538.23 L589.96 538.04 L589.43 537.85 L588.89 537.66 L588.34 537.48 L587.77 537.3 L587.2 537.13 L586.62 536.96 L586.03 536.81 L585.43 536.66 L584.83 536.53 L584.21 536.4 L583.59 536.28 L582.96 536.17 L582.32 536.06 L581.68 535.95 L581.03 535.84 L580.37 535.72 L579.71 535.6 L579.05 535.47 L578.39 535.33 L577.72 535.18 L577.05 535.03 L576.37 534.86 L575.7 534.69 L575.03 534.52 L574.36 534.34 L573.68 534.17 L573.01 534 L572.33 533.84 L571.65 533.68 L570.96 533.54 L570.27 533.41 L569.57 533.29 L568.86 533.18 L568.13 533.09 L567.4 533 L566.65 532.92 L565.89 532.84 L565.11 532.77 L564.32 532.69 L563.51 532.61 L562.69 532.53 L561.85 532.44 L561 532.33 L560.14 532.22 L559.27 532.09 L558.4 531.96 L557.52 531.81 L556.64 531.66 L555.76 531.5 L554.88 531.33 L554 531.17 L553.13 531.01 L552.26 530.85 L551.39 530.7 L550.52 530.55 L549.65 530.42 L548.78 530.29 L547.91 530.18 L547.04 530.07 L546.16 529.97 L545.28 529.88 L544.39 529.8 L543.49 529.72 L542.58 529.64 L541.66 529.57 L540.72 529.5 L539.78 529.42 L538.83 529.35 L537.87 529.27 L536.9 529.19 L535.92 529.1 L534.94 529.02 L533.96 528.93 L532.97 528.85 L531.98 528.76 L530.99 528.68 L530 528.59 L529.01 528.51 L528.02 528.42 L527.03 528.34 L526.04 528.26 L525.05 528.19 L524.05 528.11 L523.05 528.03 L522.05 527.95 L521.03 527.87 L520.01 527.79 L518.98 527.71 L517.94 527.62 L516.89 527.53 L515.84 527.44 L514.77 527.35 L513.69 527.26 L512.6 527.17 L511.51 527.08 L510.41 527 L509.31 526.91 L508.21 526.83 L507.1 526.75 L505.99 526.68 L504.89 526.61 L503.78 526.54 L502.68 526.48 L501.58 526.43 L500.48 526.38 L499.38 526.33 L498.28 526.28 L497.19 526.24 L496.09 526.2 L494.99 526.17 L493.89 526.13 L492.79 526.1 L491.69 526.07 L490.58 526.03 L489.48 526.01 L488.37 525.98 L487.26 525.95 L486.14 525.92 L485.03 525.89 L483.91 525.87 L482.79 525.84 L481.67 525.81 L480.55 525.78 L479.43 525.74 L478.31 525.7 L477.18 525.66 L476.05 525.62 L474.92 525.57 L473.78 525.52 L472.62 525.47 L471.46 525.42 L470.29 525.37 L469.11 525.31 L467.91 525.26 L466.71 525.21 L465.49 525.17 L464.26 525.13 L463.02 525.1 L461.78 525.08 L460.53 525.07 L459.28 525.06 L458.03 525.06 L456.79 525.07 L455.56 525.09 L454.34 525.11 L453.14 525.13 L451.95 525.16 L450.78 525.18 L449.63 525.2 L448.5 525.22 L447.39 525.23 L446.29 525.24 L445.2 525.23 L444.13 525.23 L443.05 525.21 L441.98 525.19 L440.91 525.17 L439.82 525.15 L438.72 525.12 L437.61 525.1 L436.47 525.08 L435.31 525.07 L434.13 525.06 L432.92 525.06 L431.69 525.07 L430.44 525.09 L429.17 525.12 L427.89 525.15 L426.6 525.2 L425.3 525.24 L424 525.29 L422.71 525.34 L421.43 525.39 L420.17 525.44 L418.92 525.48 L417.7 525.53 L416.49 525.56 L415.32 525.6 L414.16 525.62 L413.03 525.65 L411.91 525.67 L410.82 525.69 L409.73 525.71 L408.65 525.73 L407.57 525.75 L406.49 525.78 L405.41 525.8 L404.32 525.84 L403.22 525.87 L402.1 525.91 L400.96 525.96 L399.82 526.01 L398.65 526.05 L397.48 526.1 L396.29 526.15 L395.1 526.2 L393.91 526.25 L392.71 526.3 L391.52 526.35 L390.33 526.39 L389.16 526.44 L387.99 526.49 L386.84 526.53 L385.71 526.58 L384.58 526.64 L383.48 526.7 L382.38 526.77 L381.29 526.84 L380.21 526.92 L379.14 527.01 L378.07 527.1 L376.99 527.2 L375.92 527.3 L374.83 527.4 L373.74 527.5 L372.64 527.6 L371.54 527.7 L370.42 527.79 L369.3 527.88 L368.17 527.95 L367.05 528.02 L365.92 528.09 L364.8 528.14 L363.68 528.19 L362.58 528.24 L361.49 528.29 L360.41 528.33 L359.35 528.39 L358.31 528.44 L357.28 528.51 L356.27 528.58 L355.28 528.67 L354.3 528.76 L353.33 528.87 L352.37 528.98 L351.41 529.1 L350.45 529.23 L349.49 529.36 L348.52 529.49 L347.55 529.62 L346.57 529.75 L345.58 529.87 L344.58 529.98 L343.57 530.09 L342.55 530.18 L341.53 530.27 L340.5 530.35 L339.48 530.42 L338.45 530.49 L337.44 530.56 L336.43 530.63 L335.44 530.71 L334.46 530.79 L333.49 530.88 L332.54 530.98 L331.62 531.1 L330.7 531.22 L329.81 531.36 L328.93 531.51 L328.07 531.67 L327.21 531.83 L326.37 532 L325.52 532.17 L324.69 532.34 L323.85 532.51 L323.01 532.67 L322.17 532.82 L321.32 532.97 L320.47 533.1 L319.61 533.22 L318.75 533.33 L317.88 533.43 L317.01 533.52 L316.14 533.6 L315.28 533.69 L314.42 533.77 L313.57 533.85 L312.72 533.94 L311.89 534.03 L311.07 534.13 L310.26 534.24 L309.47 534.36 L308.69 534.49 L307.93 534.62 L307.18 534.77 L306.44 534.92 L305.72 535.08 L305.01 535.25 L304.3 535.41 L303.61 535.58 L302.92 535.75 L302.24 535.92 L301.56 536.08 L300.88 536.24 L300.21 536.4 L299.54 536.56 L298.87 536.72 L298.2 536.87 L297.54 537.03 L296.87 537.18 L296.21 537.33 L295.55 537.48 L294.9 537.64 L294.25 537.79 L293.61 537.95 L292.97 538.1 L292.33 538.26 L291.7 538.42 L291.08 538.58 L290.47 538.73 L289.86 538.88 L289.25 539.04 L288.66 539.18 L288.07 539.33 L287.49 539.47 L286.92 539.62 L286.36 539.76 L285.81 539.9 L285.28 540.04 L284.75 540.17 L284.24 540.31 L283.73 540.46 L283.25 540.6 L282.77 540.75 L282.31 540.9 L281.87 541.06 L281.43 541.22 L281.01 541.38 L280.6 541.55 L280.2 541.72 L279.8 541.89 L279.42 542.06 L279.03 542.24 L278.65 542.42 L278.27 542.6 L277.89 542.78 L277.52 542.97 L277.13 543.15 L276.75 543.33 L276.37 543.52 L275.99 543.7 L275.6 543.88 L275.22 544.07 L274.84 544.25 L274.47 544.43 L274.11 544.61 L273.75 544.79 L273.41 544.96 L273.08 545.14 L272.76 545.3 L272.46 545.47 L272.18 545.63 L271.91 545.78 L271.66 545.93 L271.43 546.08 L271.21 546.23 L271 546.37 L270.8 546.51 L270.62 546.66 L270.44 546.8 L270.27 546.95 L270.11 547.11 L269.95 547.27 L269.79 547.44 L269.64 547.61 L269.49 547.8 L269.34 547.99 L269.19 548.18 L269.05 548.38 L268.91 548.59 L268.78 548.79 L268.66 549 L268.55 549.2 L268.45 549.4 L268.36 549.6 L268.28 549.79 L268.21 549.97 L268.16 550.14 L268.12 550.31 L268.09 550.46 L268.08 550.62 L268.07 550.76 L268.07 550.91 L268.09 551.05 L268.11 551.19 L268.13 551.34 L268.16 551.49 L268.19 551.64 L268.22 551.81 L268.26 551.97 L268.3 552.15 L268.34 552.33 L268.39 552.52 L268.44 552.72 L268.49 552.92 L268.55 553.12 L268.62 553.32 L268.69 553.52 L268.78 553.71 L268.88 553.9 L268.99 554.09 L269.11 554.27 L269.25 554.44 L269.4 554.61 L269.56 554.77 L269.73 554.93 L269.92 555.09 L270.12 555.24 L270.33 555.4 L270.55 555.55 L270.78 555.7 L271.02 555.86 L271.26 556.02 L271.52 556.18 L271.78 556.35 L272.06 556.51 L272.34 556.68 L272.63 556.85 L272.92 557.02 L273.23 557.19 L273.55 557.35 L273.88 557.52 L274.21 557.68 L274.55 557.83 L274.91 557.99 L275.26 558.14 L275.63 558.29 L276 558.45 L276.37 558.6 L276.74 558.76 L277.11 558.92 L277.48 559.08 L277.85 559.25 L278.22 559.43 L278.58 559.61 L278.94 559.79 L279.3 559.98 L279.66 560.17 L280.02 560.36 L280.39 560.55 L280.77 560.73 L281.15 560.91 L281.55 561.08 L281.97 561.25 L282.41 561.4 L282.87 561.55 L283.36 561.68 L283.88 561.81 L284.42 561.93 L284.99 562.05 L285.58 562.16 L286.2 562.28 L286.84 562.39 L287.49 562.51 L288.16 562.64 L288.83 562.77 L289.51 562.92 L290.18 563.07 L290.85 563.23 L291.51 563.39 L292.16 563.56 L292.79 563.74 L293.4 563.92 L294 564.1 L294.58 564.27 L295.15 564.44 L295.7 564.6 L296.25 564.75 L296.79 564.9 L297.34 565.03 L297.89 565.15 L298.46 565.26 L299.04 565.36 L299.64 565.46 L300.27 565.56 L300.92 565.66 L301.6 565.76 L302.32 565.86 L303.06 565.97 L303.82 566.09 L304.62 566.22 L305.43 566.36 L306.26 566.51 L307.1 566.67 L307.95 566.84 L308.81 567.02 L309.66 567.19 L310.51 567.37 L311.35 567.54 L312.18 567.71 L313 567.87 L313.81 568.02 L314.61 568.16 L315.41 568.29 L316.19 568.4 L316.97 568.5 L317.76 568.59 L318.54 568.67 L319.34 568.74 L320.14 568.81 L320.96 568.87 L321.79 568.94 L322.64 569 L323.51 569.07 L324.39 569.15 L325.29 569.23 L326.21 569.32 L327.14 569.42 L328.07 569.53 L329.02 569.64 L329.97 569.76 L330.92 569.89 L331.87 570.01 L332.81 570.14 L333.75 570.27 L334.69 570.39 L335.61 570.51 L336.53 570.63 L337.45 570.75 L338.36 570.86 L339.28 570.97 L340.19 571.07 L341.11 571.17 L342.04 571.26 L342.98 571.36 L343.94 571.45 L344.91 571.54 L345.9 571.63 L346.91 571.72 L347.93 571.81 L348.97 571.9 L350.03 571.99 L351.1 572.08 L352.18 572.16 L353.27 572.24 L354.36 572.32 L355.45 572.39 L356.54 572.46 L357.63 572.53 L358.7 572.59 L359.77 572.65 L360.83 572.7 L361.88 572.75 L362.91 572.8 L363.94 572.85 L364.96 572.9 L365.98 572.95 L367 573 L368.01 573.05 L369.04 573.1 L370.07 573.16 L371.11 573.21 L372.16 573.27 L373.23 573.34 L374.32 573.4 L375.42 573.47 L376.53 573.53 L377.66 573.6 L378.81 573.66 L379.96 573.73 L381.12 573.8 L382.29 573.86 L383.46 573.93 L384.63 573.99 L385.8 574.05 L386.97 574.12 L388.12 574.17 L389.27 574.23 L390.41 574.29 L391.54 574.34 L392.67 574.39 L393.79 574.44 L394.9 574.48 L396.01 574.51 L397.11 574.55 L398.22 574.57 L399.33 574.59 L400.44 574.61 L401.56 574.62 L402.69 574.62 L403.83 574.62 L404.98 574.62 L406.14 574.61 L407.31 574.61 L408.49 574.61 L409.68 574.61 L410.87 574.61 L412.07 574.62 L413.28 574.63 L414.48 574.65 L415.69 574.67 L416.9 574.7 L418.1 574.74 L419.31 574.78 L420.51 574.82 L421.71 574.86 L422.9 574.9 L424.09 574.93 L425.27 574.97 L426.45 574.99 L427.63 575.01 L428.8 575.02 L429.97 575.02 L431.14 575.01 L432.3 574.99 L433.47 574.97 L434.63 574.94 L435.8 574.9 L436.96 574.86 L438.12 574.82 L439.28 574.79 L440.44 574.75 L441.6 574.72 L442.76 574.7 L443.92 574.68 L445.08 574.67 L446.25 574.66 L447.41 574.66 L448.58 574.66 L449.76 574.67 L450.93 574.68 L452.12 574.68 L453.31 574.69 L454.5 574.68 L455.7 574.68 L456.91 574.66 L458.11 574.64 L459.33 574.62 L460.54 574.58 L461.75 574.54 L462.97 574.5 L464.18 574.45 L465.39 574.4 L466.59 574.34 L467.78 574.29 L468.96 574.24 L470.14 574.18 L471.3 574.13 L472.45 574.09 L473.59 574.04 L474.72 573.99 L475.85 573.95 L476.96 573.9 L478.07 573.85 L479.17 573.81 L480.27 573.75 L481.38 573.7 L482.48 573.64 L483.58 573.58 L484.69 573.51 L485.81 573.44 L486.93 573.37 L488.05 573.3 L489.19 573.24 L490.32 573.17 L491.47 573.1 L492.61 573.04 L493.76 572.99 L494.9 572.94 L496.04 572.89 L497.18 572.85 L498.31 572.81 L499.44 572.77 L500.56 572.73 L501.67 572.68 L502.77 572.64 L503.86 572.58 L504.94 572.52 L506.02 572.45 L507.09 572.38 L508.15 572.29 L509.21 572.19 L510.27 572.08 L511.33 571.97 L512.39 571.85 L513.44 571.73 L514.5 571.61 L515.56 571.49 L516.62 571.37 L517.68 571.26 L518.74 571.15 L519.8 571.05 L520.85 570.97 L521.9 570.89 L522.95 570.81 L523.98 570.74 L525.01 570.68 L526.03 570.62 L527.05 570.55 L528.05 570.49 L529.04 570.41 L530.02 570.33 L530.99 570.24 L531.95 570.14 L532.9 570.03 L533.85 569.91 L534.79 569.77 L535.73 569.64 L536.66 569.49 L537.59 569.34 L538.53 569.19 L539.46 569.05 L540.39 568.91 L541.32 568.77 L542.25 568.65 L543.18 568.53 L544.11 568.43 L545.04 568.34 L545.96 568.25 L546.89 568.17 L547.81 568.1 L548.72 568.03 L549.63 567.97 L550.53 567.89 L551.43 567.82 L552.32 567.73 L553.21 567.64 L554.09 567.53 L554.97 567.41 L555.85 567.28 L556.72 567.13 L557.58 566.97 L558.44 566.81 L559.29 566.64 L560.14 566.46 L560.98 566.28 L561.82 566.1 L562.64 565.92 L563.45 565.74 L564.25 565.57 L565.04 565.41 L565.81 565.26 L566.56 565.11 L567.3 564.98 L568.02 564.85 L568.72 564.72 L569.41 564.6 L570.09 564.49 L570.75 564.37 L571.4 564.25 L572.05 564.14 L572.69 564.02 L573.34 563.9 L573.99 563.77 L574.64 563.64 L575.3 563.51 L575.98 563.37 L576.67 563.23 L577.37 563.09 L578.08 562.94 L578.8 562.8 L579.53 562.65 L580.27 562.5 L581.01 562.36 L581.75 562.21 L582.49 562.06 L583.21 561.92 L583.91 561.77 L584.6 561.61 L585.26 561.46 L585.89 561.31 L586.49 561.15 L587.07 560.98 L587.61 560.82 L588.12 560.65 L588.6 560.47 L589.05 560.3 L589.49 560.12 L589.9 559.94 L590.31 559.76 L590.7 559.58 L591.1 559.4 L591.49 559.23 L591.9 559.05 L592.31 558.88 L592.73 558.71 L593.18 558.54 L593.63 558.38 L594.1 558.22 L594.58 558.06 L595.08 557.91" stroke-width="6.2"/>
<path class="rd" d="M347.49 571.28 L349.88 571.5 L352.3 571.71 L354.74 571.91 L357.2 572.1 L359.69 572.29 L362.2 572.48 L364.73 572.66 L367.28 572.83 L369.86 573 L372.45 573.16 L375.06 573.31 L377.69 573.46 L380.34 573.6 L383.01 573.74 L385.69 573.87 L388.39 574 L391.1 574.11 L393.82 574.23 L396.56 574.33 L399.31 574.43 L402.07 574.52 L404.84 574.61 L407.63 574.69 L410.42 574.76 L413.22 574.83 L416.02 574.89 L418.84 574.94 L421.66 574.99 L424.48 575.03 L427.32 575.06 L430.15 575.09 L432.99 575.11 L435.83 575.12 L438.67 575.13 L441.51 575.13 L444.35 575.13 L447.19 575.12 L450.02 575.1 L452.86 575.07 L455.69 575.04 L458.52 575 L461.34 574.96 L464.16 574.9 L466.97 574.85 L469.77 574.78 L472.57 574.71 L475.35 574.63 L478.13 574.55 L480.9 574.46 L483.65 574.36 L486.39 574.26 L489.12 574.15 L491.84 574.03 L494.54 573.91 L497.23 573.78 L499.9 573.65 L502.56 573.51 L505.19 573.36 L507.81 573.21 L510.41 573.05 L513 572.88 L515.56 572.71 L518.1 572.53 L520.62 572.35 L523.11 572.16 L525.59 571.97 L528.04 571.77 L530.46 571.56 L532.86 571.35 L535.24 571.13 L537.59 570.91 L539.91 570.68 L542.2 570.45 L544.47 570.21 L546.71 569.97 L548.91 569.72 L551.09 569.47 L553.24 569.21 L555.35 568.94 L557.43 568.67 L559.48 568.4 L561.5 568.12 L563.49 567.84 L565.44 567.55 L567.35 567.26 L569.23 566.96 L571.07 566.66 L572.88 566.36 L574.65 566.05 L576.38 565.73 L578.08 565.42 L579.74 565.1 L581.35 564.77 L582.93 564.44 L584.47 564.11 L585.97 563.78 L587.43 563.44 L588.85 563.09 L590.23 562.75 L591.56 562.4 L592.85 562.05 L594.11 561.69 L595.31 561.34 L596.48 560.98 L597.6 560.61 L598.68 560.25 L599.71 559.88 L600.7 559.51 L601.65 559.14 L602.55 558.76 L603.4 558.38 L604.21 558.01 L604.97 557.62 L605.69 557.24 L606.36 556.86 L606.99 556.47 L607.57 556.09 L608.1 555.7 L608.59 555.31 L609.03 554.92 L609.42 554.53 L609.77 554.14 L610.07 553.74 L610.32 553.35 L610.52 552.96 L610.68 552.56 L610.79 552.17 L610.85 551.77 L610.87 551.38 L610.83 550.98 L610.75 550.59 L610.63 550.19 L610.45 549.8 L610.23 549.4 L609.96 549.01 L609.64 548.62 L609.28 548.23 L608.87 547.84 L608.41 547.45 L607.91 547.06 L607.36 546.67 L606.76 546.28 L606.12 545.9 L605.43 545.52 L604.69 545.13 L603.91 544.75 L603.08 544.38 L602.21 544 L601.3 543.63 L600.33 543.26 L599.33 542.89 L598.28 542.52 L597.18 542.15 L596.05 541.79 L594.87 541.43 L593.64 541.08 L592.37 540.72 L591.07 540.37 L589.71 540.03 L588.32 539.68 L586.89 539.34 L585.41 539 L583.9 538.67 L582.35 538.34 L580.75 538.01 L579.12 537.69 L577.45 537.37 L575.74 537.05 L573.99 536.74 L572.21 536.44 L570.39 536.13 L568.53 535.83 L566.64 535.54 L564.71 535.25 L562.75 534.96 L560.75 534.68 L558.72 534.41 L556.66 534.14 L554.56 533.87 L552.43 533.61 L550.28 533.35 L548.09 533.1 L545.87 532.85 L543.62 532.61 L541.35 532.38 L539.04 532.15 L536.71 531.92 L534.35 531.7 L531.97 531.49 L529.56 531.28 L527.12 531.07 L524.66 530.88 L522.18 530.68 L519.67 530.5 L517.15 530.32 L514.6 530.14 L512.03 529.97 L509.44 529.81 L506.83 529.66 L504.21 529.51 L501.56 529.36 L498.9 529.22 L496.22 529.09 L493.53 528.97 L490.82 528.85 L488.1 528.73 L485.37 528.63 L482.62 528.53 L479.86 528.43 L477.09 528.35 L474.31 528.26 L471.52 528.19 L468.72 528.12 L465.92 528.06 L463.1 528 L460.28 527.96 L457.46 527.91 L454.63 527.88 L451.8 527.85 L448.96 527.83 L446.12 527.81 L443.28 527.8 L440.44 527.8 L437.6 527.8 L434.76 527.81 L431.92 527.83 L429.09 527.86 L426.25 527.89 L423.42 527.92 L420.6 527.97 L417.78 528.02 L414.97 528.07 L412.17 528.14 L409.37 528.21 L406.58 528.28 L403.8 528.36 L401.03 528.45 L398.28 528.55 L395.53 528.65 L392.8 528.76 L390.08 528.87 L387.37 528.99 L384.68 529.12 L382.01 529.25 L379.35 529.39 L376.71 529.54 L374.08 529.69 L371.48 529.85 L368.89 530.01 L366.32 530.18 L363.78 530.36 L361.25 530.54 L358.75 530.73 L356.27 530.92 L353.82 531.12 L351.39 531.32 L348.98 531.53 L346.6 531.75 L344.24 531.97 L341.92 532.2 L339.62 532.43 L337.34 532.67 L335.1 532.91" stroke-width="4.3"/>
<path class="bl" d="M342.33 532.33 L340.06 532.56 L337.82 532.8 L335.61 533.04 L333.44 533.29 L331.29 533.55 L329.17 533.81 L327.08 534.07 L325.03 534.34 L323.01 534.61 L321.02 534.89 L319.07 535.17 L317.14 535.46 L315.26 535.75 L313.41 536.05 L311.59 536.35 L309.82 536.65 L308.07 536.96 L306.37 537.27 L304.7 537.59 L303.08 537.91 L301.49 538.23 L299.94 538.56 L298.43 538.89 L296.95 539.22 L295.52 539.56 L294.13 539.9 L292.79 540.25 L291.48 540.59 L290.22 540.94 L288.99 541.3 L287.81 541.65 L286.68 542.01 L285.58 542.37 L284.53 542.74 L283.53 543.1 L282.57 543.47 L281.65 543.84 L280.78 544.22 L279.95 544.59 L279.17 544.97 L278.43 545.35 L277.74 545.73 L277.09 546.11 L276.49 546.49 L275.94 546.87 L275.43 547.26 L274.97 547.65 L274.56 548.03 L274.19 548.42 L273.87 548.81 L273.59 549.2 L273.37 549.59 L273.19 549.98 L273.05 550.38 L272.97 550.77 L272.93 551.16 L272.94 551.55 L272.99 551.94 L273.1 552.33 L273.25 552.73 L273.44 553.12 L273.69 553.51 L273.98 553.9 L274.32 554.29 L274.7 554.67 L275.13 555.06 L275.61 555.45 L276.13 555.83 L276.7 556.22 L277.32 556.6 L277.98 556.98 L278.69 557.36 L279.44 557.74 L280.24 558.11 L281.09 558.49 L281.98 558.86 L282.91 559.23 L283.89 559.59 L284.91 559.96 L285.98 560.32 L287.08 560.68 L288.24 561.04 L289.43 561.39 L290.67 561.75 L291.95 562.1 L293.27 562.44 L294.64 562.78 L296.04 563.12 L297.48 563.46 L298.97 563.79 L300.49 564.12 L302.06 564.45 L303.66 564.77 L305.31 565.09 L306.99 565.4 L308.7 565.71 L310.46 566.02 L312.25 566.32 L314.08 566.62 L315.94 566.92 L317.84 567.2 L319.77 567.49 L321.74 567.77 L323.74 568.05 L325.77 568.32 L327.84 568.58 L329.94 568.85 L332.07 569.1 L334.23 569.35 L336.41 569.6 L338.63 569.84 L340.88 570.08 L343.16 570.31 L345.46 570.53 L347.79 570.75 L350.15 570.97 L352.53 571.18 L354.93 571.38" stroke-width="2.2" stroke-dasharray="5 3.5"/>
<path class="gr" d="M549.11 566.38 L551.83 566.06 L554.5 565.72 L557.12 565.38 L559.69 565.04 L562.2 564.68 L564.66 564.32 L567.07 563.95 L569.42 563.57 L571.71 563.19 L573.94 562.8 L576.11 562.4 L578.23 562 L580.28 561.59 L582.27 561.17 L584.19 560.75 L586.05 560.33 L587.85 559.89 L589.58 559.46 L591.24 559.02 L592.84 558.57 L594.37 558.12 L595.83 557.66 L597.22 557.2 L598.54 556.74 L599.79 556.27 L600.97 555.8 L602.08 555.33 L603.11 554.85 L604.08 554.37 L604.97 553.89" stroke-width="3.5"/>
<path class="bl" d="M347.49 571.28 L349.9 571.5 L352.34 571.71 L354.8 571.91 L357.29 572.11 L359.8 572.3 L362.33 572.49 L364.89 572.67 L367.46 572.84 L370.06 573.01 L372.68 573.17 L375.32 573.33 L377.97 573.48 L380.65 573.62 L383.34 573.76 L386.04 573.89 L388.76 574.01 L391.5 574.13 L394.25 574.24 L397.02 574.35 L399.79 574.45 L402.58 574.54 L405.38 574.62 L408.19 574.7 L411 574.78 L413.83 574.84 L416.66 574.9 L419.5 574.95 L422.35 575 L425.2 575.04 L428.06 575.07 L430.92 575.1 L433.78 575.12 L436.65 575.13 L439.51 575.13 L442.38 575.13 L445.24 575.12 L448.11 575.11 L450.97 575.09 L453.83 575.06 L456.68 575.03 L459.53 574.99 L462.38 574.94 L465.22 574.88 L468.05 574.82 L470.87 574.75 L473.69 574.68 L476.5 574.6 L479.29 574.51 L482.08 574.42 L484.85 574.32 L487.61 574.21 L490.36 574.1 L493.09 573.98 L495.81 573.85 L498.52 573.72 L501.2 573.58 L503.87 573.43 L506.53 573.28 L509.16 573.13 L511.77 572.96 L514.37 572.79 L516.94 572.62 L519.49 572.43 L522.02 572.25 L524.52 572.05 L527 571.85 L529.46 571.65 L531.89 571.44 L534.3 571.22 L536.68 571 L539.03 570.77 L541.36 570.54 L543.65 570.3 L545.92 570.05 L548.16 569.81 L550.36 569.55 L552.54 569.29 L554.68 569.03 L556.79 568.76 L558.87 568.48 L560.92 568.2 L562.93 567.92 L564.9 567.63 L566.85 567.34 L568.75 567.04 L570.62 566.74 L572.45 566.43 L574.25 566.12 L576 565.8 L577.72 565.49 L579.4 565.16 L581.04 564.84 L582.64 564.5 L584.2 564.17 L585.72 563.83" stroke-width="2.0" stroke-dasharray="2 9" opacity="0.8"/>
<path class="bl" d="M500.51 529.31 L497.82 529.17 L495.11 529.04 L492.38 528.91 L489.64 528.8 L486.89 528.69 L484.12 528.58 L481.34 528.48 L478.55 528.39 L475.74 528.31 L472.93 528.23 L470.11 528.15 L467.28 528.09 L464.44 528.03 L461.6 527.98 L458.75 527.93 L455.89 527.89 L453.03 527.86 L450.17 527.84 L447.3 527.82 L444.44 527.81 L441.57 527.8 L438.7 527.8 L435.83 527.81 L432.96 527.82 L430.1 527.85 L427.24 527.87 L424.38 527.91 L421.52 527.95 L418.68 528 L415.83 528.06 L413 528.12 L410.17 528.19 L407.35 528.26 L404.54 528.34 L401.75 528.43 L398.96 528.52 L396.18 528.63 L393.42 528.73 L390.67 528.85 L387.93 528.97 L385.21 529.1 L382.51 529.23 L379.82 529.37 L377.15 529.51 L374.5 529.67 L371.86 529.83 L369.25 529.99 L366.65 530.16 L364.08 530.34 L361.53 530.52 L359 530.71 L356.49 530.9 L354.01 531.1 L351.55 531.31 L349.12 531.52 L346.72 531.74 L344.34 531.96 L341.98 532.19 L339.66 532.42 L337.37 532.66 L335.1 532.91" stroke-width="2.0" stroke-dasharray="2 10" opacity="0.8"/>
<path class="bl" d="M609.55 552.6 L609.74 552.21 L609.87 551.81 L609.97 551.42 L610.01 551.03 L610.01 550.63 L609.96 550.24 L609.86 549.85 L609.72 549.46 L609.53 549.06 L609.29 548.67 L609 548.28 L608.67 547.89 L608.29 547.5 L607.87 547.11 L607.39 546.72 L606.88 546.34 L606.31 545.95 L605.7 545.57 L605.04 545.19 L604.34 544.81 L603.59 544.43 L602.8 544.05 L601.96 543.67 L601.07 543.3 L600.14 542.93 L599.17 542.56 L598.15 542.19 L597.09 541.83 L595.98 541.47 L594.84 541.11 L593.64 540.75 L592.41 540.4 L591.13 540.05 L589.82 539.7 L588.46 539.35 L587.05 539.01 L585.61 538.68 L584.13 538.34 L582.61 538.01 L581.05 537.68 L579.44 537.36 L577.8 537.04 L576.13 536.72 L574.41 536.41 L572.66 536.1 L570.87 535.8 L569.04 535.5 L567.18 535.2 L565.28 534.91 L563.35 534.62 L561.38 534.34 L559.38 534.06 L557.35 533.79 L555.29 533.52 L553.19 533.26 L551.06 533 L548.9 532.75 L546.71 532.5 L544.49 532.25 L542.24 532.02 L539.96 531.78 L537.66 531.55 L535.33 531.33 L532.97 531.12 L530.59 530.9 L528.18 530.7 L525.75 530.5 L523.29 530.3 L520.81 530.12 L518.31 529.93 L515.78 529.76 L513.24 529.58 L510.67 529.42 L508.09 529.26 L505.49 529.11 L502.87 528.96 L500.23 528.82 L497.57 528.68 L494.9 528.55 L492.21 528.43" stroke-width="2.4" stroke-dasharray="4 3"/>
<path class="gr" d="M611 553 L614 558 L617 564 L622 570.5 L629 575.5 L637 578 L646 578.8 L653.8 578 L653.5 571" stroke-width="3.8"/>
<path class="gr" d="M597 561 L596.5 566.5" stroke-width="4"/>
<path class="bl" d="M592 532.5 L604 543 L615 552.5 L622 558.5 L628 563.5 L620 563 L614 557 L610 551.5" stroke-width="3.2"/>
<line x1="377" y1="34.5" x2="424" y2="34.5" stroke="#62bb46" stroke-width="3.4"/>
<line x1="524.1" y1="34.6" x2="570.7" y2="34.6" stroke="#2f47a2" stroke-width="3.4"/>
<line x1="661.9" y1="34.2" x2="708.5" y2="34.2" stroke="#e81c27" stroke-width="3.4"/>
<line x1="381.2" y1="476.0" x2="428.2" y2="476.0" stroke="#62bb46" stroke-width="3.8"/>
<line x1="528.3000000000001" y1="476.1" x2="574.9000000000001" y2="476.1" stroke="#2f47a2" stroke-width="3.8"/>
<line x1="666.1" y1="475.7" x2="712.7" y2="475.7" stroke="#e81c27" stroke-width="3.8"/>
<text x="0" y="0" transform="translate(33 44.9)" font-family='"Liberation Sans", Arial, Helvetica, sans-serif' font-size="25.8" fill="#383838">220</text>
<text x="0" y="0" transform="translate(32.9 146.3)" font-family='"Liberation Sans", Arial, Helvetica, sans-serif' font-size="25.8" fill="#383838">210</text>
<text x="0" y="0" transform="translate(32.9 246.45)" font-family='"Liberation Sans", Arial, Helvetica, sans-serif' font-size="25.8" fill="#383838">200</text>
<text x="0" y="0" transform="translate(121.35 279.35)" font-family='"Liberation Sans", Arial, Helvetica, sans-serif' font-size="25.8" fill="#383838">-20</text>
<text x="0" y="0" transform="translate(313 287.5)" font-family='"Liberation Sans", Arial, Helvetica, sans-serif' font-size="25.8" fill="#383838">0</text>
<text x="0" y="0" transform="translate(453.6 295.38)" font-family='"Liberation Sans", Arial, Helvetica, sans-serif' font-size="25.8" fill="#383838">20</text>
<text x="0" y="0" transform="translate(644 281.6)" font-family='"Liberation Sans", Arial, Helvetica, sans-serif' font-size="25.8" fill="#383838">-20</text>
<text x="0" y="0" transform="translate(702 260)" font-family='"Liberation Sans", Arial, Helvetica, sans-serif' font-size="25.8" fill="#383838">0</text>
<text x="0" y="0" transform="translate(761 237.7)" font-family='"Liberation Sans", Arial, Helvetica, sans-serif' font-size="25.8" fill="#383838">20</text>
<text x="0" y="0" transform="translate(254.6 342.82)" font-family='"Liberation Sans", Arial, Helvetica, sans-serif' font-size="26.2" fill="#383838">x [mm]</text>
<text x="0" y="0" transform="translate(19.35 193.9) rotate(-90)" font-family='"Liberation Sans", Arial, Helvetica, sans-serif' font-size="26.2" fill="#383838">z [mm]</text>
<text x="0" y="0" transform="translate(687.8 324.55) rotate(-25.5)" font-family='"Liberation Sans", Arial, Helvetica, sans-serif' font-size="26.2" fill="#383838">y [mm]</text>
<text x="0" y="0" transform="translate(426.45 43.7)" font-family='"Liberation Sans", Arial, Helvetica, sans-serif' font-size="26.0" fill="#000000">sensor</text>
<text x="0" y="0" transform="translate(573.12 44.38)" font-family='"Liberation Sans", Arial, Helvetica, sans-serif' font-size="26.0" fill="#000000">model</text>
<text x="0" y="0" transform="translate(711.3 44.2)" font-family='"Liberation Sans", Arial, Helvetica, sans-serif' font-size="26.0" fill="#000000">desired</text>
<text x="0" y="0" transform="translate(300.8 395.9)" font-family='"Liberation Serif", "Times New Roman", serif' font-size="26.8" fill="#000000">(a)</text>
<text x="0" y="0" transform="translate(340.85 395.9)" font-family='"Liberation Serif", "Times New Roman", serif' font-size="26.8" fill="#000000">Adaptation</text>
<text x="0" y="0" transform="translate(471.15 395.9)" font-family='"Liberation Serif", "Times New Roman", serif' font-size="26.8" fill="#000000">off</text>
<text x="0" y="0" transform="translate(32.75 484.4)" font-family='"Liberation Sans", Arial, Helvetica, sans-serif' font-size="25.8" fill="#383838">220</text>
<text x="0" y="0" transform="translate(32.75 585.15)" font-family='"Liberation Sans", Arial, Helvetica, sans-serif' font-size="25.8" fill="#383838">210</text>
<text x="0" y="0" transform="translate(32.75 685.9)" font-family='"Liberation Sans", Arial, Helvetica, sans-serif' font-size="25.8" fill="#383838">200</text>
<text x="0" y="0" transform="translate(121.38 718.55)" font-family='"Liberation Sans", Arial, Helvetica, sans-serif' font-size="25.8" fill="#383838">-20</text>
<text x="0" y="0" transform="translate(312.88 726)" font-family='"Liberation Sans", Arial, Helvetica, sans-serif' font-size="25.8" fill="#383838">0</text>
<text x="0" y="0" transform="translate(453.6 734.35)" font-family='"Liberation Sans", Arial, Helvetica, sans-serif' font-size="25.8" fill="#383838">20</text>
<text x="0" y="0" transform="translate(644.15 720.7)" font-family='"Liberation Sans", Arial, Helvetica, sans-serif' font-size="25.8" fill="#383838">-20</text>
<text x="0" y="0" transform="translate(702.15 698.4)" font-family='"Liberation Sans", Arial, Helvetica, sans-serif' font-size="25.8" fill="#383838">0</text>
<text x="0" y="0" transform="translate(760.88 676.85)" font-family='"Liberation Sans", Arial, Helvetica, sans-serif' font-size="25.8" fill="#383838">20</text>
<text x="0" y="0" transform="translate(254.6 781.1)" font-family='"Liberation Sans", Arial, Helvetica, sans-serif' font-size="26.2" fill="#383838">x [mm]</text>
<text x="0" y="0" transform="translate(20.9 635.6) rotate(-90)" font-family='"Liberation Sans", Arial, Helvetica, sans-serif' font-size="26.2" fill="#383838">z [mm]</text>
<text x="0" y="0" transform="translate(679.3 762.05) rotate(-25.5)" font-family='"Liberation Sans", Arial, Helvetica, sans-serif' font-size="26.2" fill="#383838">y [mm]</text>
<text x="0" y="0" transform="translate(430.75 484.2)" font-family='"Liberation Sans", Arial, Helvetica, sans-serif' font-size="26.0" fill="#000000">sensor</text>
<text x="0" y="0" transform="translate(577.25 484.38)" font-family='"Liberation Sans", Arial, Helvetica, sans-serif' font-size="26.0" fill="#000000">model</text>
<text x="0" y="0" transform="translate(715.6 484.2)" font-family='"Liberation Sans", Arial, Helvetica, sans-serif' font-size="26.0" fill="#000000">desired</text>
<text x="0" y="0" transform="translate(302.45 834.4)" font-family='"Liberation Serif", "Times New Roman", serif' font-size="26.8" fill="#000000">(b)</text>
<text x="0" y="0" transform="translate(344.55 834.4)" font-family='"Liberation Serif", "Times New Roman", serif' font-size="26.8" fill="#000000">Adaptation</text>
<text x="0" y="0" transform="translate(472.7 834.4)" font-family='"Liberation Serif", "Times New Roman", serif' font-size="26.8" fill="#000000">on</text>
</svg></body></html>
